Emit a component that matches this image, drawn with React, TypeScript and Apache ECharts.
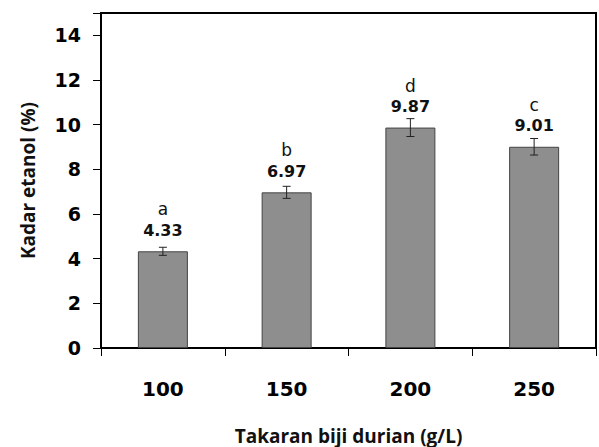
import React, { useEffect, useRef } from "react";
import * as echarts from "echarts";

const categories = ["100", "150", "200", "250"];
const values = [4.33, 6.97, 9.87, 9.01];
const errors = [0.18, 0.27, 0.4, 0.37];
const letters = ["a", "b", "d", "c"];
const yTicks = [0, 2, 4, 6, 8, 10, 12, 14];

export default function App() {
  const ref = useRef<HTMLDivElement>(null);
  useEffect(() => {
    if (!ref.current) return;
    const chart = echarts.init(ref.current, null, { renderer: "svg" });
    const errData = values.map((v, i) => [i, v - errors[i], v + errors[i]]);
    chart.setOption({
      animation: false,
      grid: {
        left: 101,
        right: 3,
        top: 13,
        bottom: 99,
        show: true,
        borderColor: "#000",
        borderWidth: 2,
        backgroundColor: "#fff",
        outerBoundsMode: "none",
        containLabel: false,
      },
      xAxis: {
        type: "category",
        data: categories,
        name: "Takaran biji durian (g/L)",
        nameLocation: "middle",
        nameGap: 78,
        nameTextStyle: { fontFamily: "Open Sans", fontWeight: 700, fontSize: 19, color: "#111" },
        axisLine: { lineStyle: { color: "#000", width: 2 } },
        axisTick: { show: true, length: 8, lineStyle: { color: "#000", width: 1 } },
        axisLabel: {
          margin: 31,
          fontFamily: "DejaVu Sans",
          fontWeight: "bold",
          fontSize: 20,
          color: "#000",
        },
      },
      yAxis: {
        type: "value",
        min: 0,
        max: 15,
        interval: 2,
        name: "Kadar etanol (%)",
        nameLocation: "middle",
        nameGap: 64,
        nameTextStyle: { fontFamily: "Open Sans", fontWeight: 700, fontSize: 19, color: "#111" },
        axisLine: { show: true, lineStyle: { color: "#000", width: 2 } },
        axisTick: { show: true, length: 8, lineStyle: { color: "#000", width: 1 } },
        splitLine: { show: false },
        axisLabel: {
          margin: 20,
          fontFamily: "DejaVu Sans",
          fontWeight: "bold",
          fontSize: 19,
          color: "#000",
          formatter: (v: number) => (yTicks.includes(v) ? String(v) : ""),
        },
      },
      series: [
        {
          type: "bar",
          data: values,
          barWidth: 50,
          itemStyle: { color: "#8e8e8e", borderColor: "#444", borderWidth: 1 },
          label: {
            show: true,
            position: "top",
            distance: 11,
            formatter: (p: any) => `{l|${letters[p.dataIndex]}}\n{v|${p.value.toFixed(2)}}`,
            rich: {
              l: { fontFamily: "DejaVu Sans", fontSize: 17, color: "#111", lineHeight: 22 },
              v: { fontFamily: "DejaVu Sans", fontWeight: "bold", fontSize: 16, color: "#111", lineHeight: 20 },
            },
          },
        },
        {
          type: "custom",
          data: errData,
          z: 10,
          renderItem: (params: any, api: any) => {
            const x = api.coord([api.value(0), api.value(1)])[0];
            const lo = api.coord([api.value(0), api.value(1)])[1];
            const hi = api.coord([api.value(0), api.value(2)])[1];
            const w = 4;
            const style = { stroke: "#222", lineWidth: 1 };
            return {
              type: "group",
              children: [
                { type: "line", shape: { x1: x, y1: lo, x2: x, y2: hi }, style },
                { type: "line", shape: { x1: x - w, y1: lo, x2: x + w, y2: lo }, style },
                { type: "line", shape: { x1: x - w, y1: hi, x2: x + w, y2: hi }, style },
              ],
            };
          },
        },
      ],
    });
    return () => chart.dispose();
  }, []);
  return <div ref={ref} style={{ width: 599, height: 447, position: "absolute", left: 0, top: 0 }} />;
}
